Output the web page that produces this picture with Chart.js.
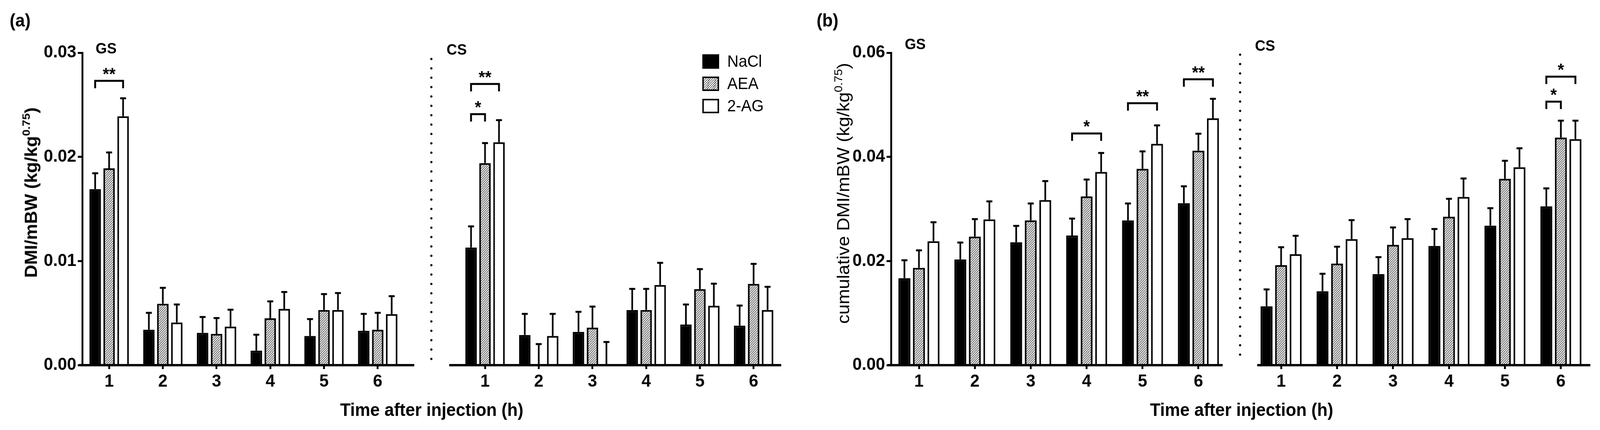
<!DOCTYPE html>
<html>
<head>
<meta charset="utf-8">
<script src="https://cdn.jsdelivr.net/npm/chart.js@4.4.1/dist/chart.umd.min.js"></script>
<style>
  html, body { margin: 0; padding: 0; background: #fff; overflow: hidden; }
  #page { position: relative; width: 4299px; height: 1101px; overflow: hidden; transform-origin: 0 0; font-family: 'Liberation Sans', Arial, sans-serif; color: #000; }
  #page canvas { position: absolute; }
  .txt { position: absolute; white-space: nowrap; line-height: 1; }
  .b { font-weight: bold; }
  .ytitle { position: absolute; white-space: nowrap; line-height: 1; font-size: 46px; transform: translate(-50%, -50%) rotate(-90deg); }
  .ytitle sup { font-size: 65%; vertical-align: 0.62em; line-height: 0; }
  .xtitle { position: absolute; white-space: nowrap; line-height: 1; font-size: 46px; font-weight: bold; transform: translateX(-50%); }
  .dots { position: absolute; width: 8px; background-image: radial-gradient(circle, #000 2.6px, transparent 3.2px); background-size: 8px 24px; background-repeat: repeat-y; }
  .sw { position: absolute; width: 45px; height: 37px; box-sizing: border-box; border: 4px solid #000; }
</style>
</head>
<body>
<div id="page">
  <canvas id="aGS" width="1140" height="1000" style="left:0px;top:80px"></canvas>
  <canvas id="aCS" width="960" height="1000" style="left:1170px;top:80px"></canvas>
  <canvas id="bGS" width="1050" height="1000" style="left:2270px;top:80px"></canvas>
  <canvas id="bCS" width="954" height="1000" style="left:3345px;top:80px"></canvas>

  <div class="txt b" style="font-size:46px;left:26px;top:29px">(a)</div>
  <div class="txt b" style="font-size:46px;left:2194px;top:29px">(b)</div>
  <div class="txt b" style="font-size:39px;left:257px;top:104px">GS</div>
  <div class="txt b" style="font-size:39px;left:1200px;top:107px">CS</div>
  <div class="txt b" style="font-size:39px;left:2431px;top:93px">GS</div>
  <div class="txt b" style="font-size:39px;left:3372px;top:97px">CS</div>

  <div class="dots" style="left:1155px;top:139px;height:790px"></div>
  <div class="dots" style="left:3328px;top:128px;height:790px"></div>

  <div class="ytitle b" style="left:83px;top:493px">DMI/mBW (kg/kg<sup>0.75</sup>)</div>
  <div class="ytitle" style="left:2265px;top:495px;font-size:47px">cumulative DMI/mBW (kg/kg<sup>0.75</sup>)</div>
  <div class="xtitle" style="left:1160px;top:1026px">Time after injection (h)</div>
  <div class="xtitle" style="left:3336px;top:1026px">Time after injection (h)</div>

  <div id="legend"></div>
</div>
<script>
// categories and series
const hours = ['1', '2', '3', '4', '5', '6'];
const groups = ['NaCl', 'AEA', '2-AG'];

// (a) DMI/mBW per hour, GS
const aGsNaCl = [0.0169, 0.0034, 0.0031, 0.0014, 0.0028, 0.0033];
const aGsNaClSem = [0.0016, 0.0017, 0.0016, 0.0016, 0.0017, 0.0017];
const aGsAEA = [0.0189, 0.0059, 0.0030, 0.0045, 0.0053, 0.0034];
const aGsAEASem = [0.0016, 0.0016, 0.0016, 0.0017, 0.0016, 0.0017];
const aGs2AG = [0.0239, 0.0041, 0.0037, 0.0054, 0.0053, 0.0049];
const aGs2AGSem = [0.0018, 0.0018, 0.0017, 0.0017, 0.0017, 0.0018];

// (a) DMI/mBW per hour, CS
const aCsNaCl = [0.0113, 0.0029, 0.0032, 0.0053, 0.0039, 0.0038];
const aCsNaClSem = [0.0021, 0.0021, 0.0020, 0.0021, 0.0020, 0.0020];
const aCsAEA = [0.0194, 0.0001, 0.0036, 0.0053, 0.0073, 0.0078];
const aCsAEASem = [0.0020, 0.0020, 0.0021, 0.0021, 0.0020, 0.0020];
const aCs2AG = [0.0214, 0.0028, 0.0001, 0.0077, 0.0057, 0.0053];
const aCs2AGSem = [0.0022, 0.0022, 0.0022, 0.0022, 0.0022, 0.0023];

// (b) cumulative DMI/mBW, GS
const bGsNaCl = [0.0167, 0.0203, 0.0236, 0.0249, 0.0278, 0.0311];
const bGsNaClSem = [0.0036, 0.0034, 0.0033, 0.0034, 0.0034, 0.0034];
const bGsAEA = [0.0187, 0.0247, 0.0278, 0.0324, 0.0377, 0.0412];
const bGsAEASem = [0.0035, 0.0035, 0.0034, 0.0034, 0.0035, 0.0034];
const bGs2AG = [0.0238, 0.0280, 0.0317, 0.0371, 0.0425, 0.0474];
const bGs2AGSem = [0.0038, 0.0036, 0.0038, 0.0038, 0.0037, 0.0039];

// (b) cumulative DMI/mBW, CS
const bCsNaCl = [0.0113, 0.0142, 0.0175, 0.0229, 0.0268, 0.0305];
const bCsNaClSem = [0.0034, 0.0035, 0.0034, 0.0034, 0.0035, 0.0036];
const bCsAEA = [0.0192, 0.0195, 0.0231, 0.0285, 0.0358, 0.0437];
const bCsAEASem = [0.0036, 0.0034, 0.0035, 0.0036, 0.0036, 0.0034];
const bCs2AG = [0.0213, 0.0242, 0.0244, 0.0323, 0.0380, 0.0434];
const bCs2AGSem = [0.0037, 0.0038, 0.0038, 0.0037, 0.0038, 0.0037];

// y tick values
const aTicks = [0, 0.01, 0.02, 0.03];
const bTicks = [0, 0.02, 0.04, 0.06];

// significance brackets: [hour index, from group, to group, level, label]
const aGsSig = [[0, 0, 2, 0.0273, '**']];
const aCsSig = [[0, 0, 2, 0.0270, '**'], [0, 0, 1, 0.0241, '*']];
const bGsSig = [[3, 0, 2, 0.0445, '*'], [4, 0, 2, 0.0503, '**'], [5, 0, 2, 0.0549, '**']];
const bCsSig = [[5, 0, 2, 0.0554, '*'], [5, 0, 1, 0.0506, '*']];

// the window is narrower than the figure, so squeeze the whole page to fit
const page = document.getElementById('page');
page.style.transform = 'scale(' + (window.innerWidth / 4299) + ',' + (window.innerHeight / 1101) + ')';

Chart.defaults.font.family = "'Liberation Sans', Arial, sans-serif";
Chart.defaults.color = '#000';

// hatch for AEA
function makeHatch() {
    const c = document.createElement('canvas');
    c.width = 6; c.height = 6;
    const p = c.getContext('2d');
    p.fillStyle = '#fff';
    p.fillRect(0, 0, 6, 6);
    p.strokeStyle = '#444';
    p.lineWidth = 1.6;
    p.beginPath();
    p.moveTo(-1, 7); p.lineTo(7, -1);
    p.moveTo(-4, 4); p.lineTo(4, -4);
    p.moveTo(2, 10); p.lineTo(10, 2);
    p.stroke();
    return p.createPattern(c, 'repeat');
}
const hatch = makeHatch();

const extras = {
    id: 'extras',
    afterDatasetsDraw(chart, args, opts) {
        const ctx = chart.ctx;
        const ys = chart.scales.y;
        const area = chart.chartArea;
        ctx.save();
        ctx.strokeStyle = '#000';
        ctx.fillStyle = '#000';
        ctx.lineCap = 'butt';

        // error bars (upper only)
        chart.data.datasets.forEach((ds, di) => {
            chart.getDatasetMeta(di).data.forEach((bar, i) => {
                const top = ys.getPixelForValue(ds.data[i] + ds.sem[i]);
                ctx.lineWidth = 4.5;
                ctx.beginPath();
                ctx.moveTo(bar.x, bar.y);
                ctx.lineTo(bar.x, top);
                ctx.stroke();
                ctx.lineWidth = 5;
                ctx.beginPath();
                ctx.moveTo(bar.x - 8, top + 2);
                ctx.lineTo(bar.x + 8, top + 2);
                ctx.stroke();
            });
        });

        // x axis line
        const y0 = ys.getPixelForValue(0);
        ctx.lineWidth = 6;
        ctx.beginPath();
        ctx.moveTo(area.left - opts.extLeft, y0);
        ctx.lineTo(area.right + opts.extRight, y0);
        ctx.stroke();

        // brackets
        ctx.font = 'bold 44px ' + Chart.defaults.font.family;
        ctx.textAlign = 'center';
        ctx.textBaseline = 'alphabetic';
        opts.sig.forEach(s => {
            const x1 = chart.getDatasetMeta(s[1]).data[s[0]].x;
            const x2 = chart.getDatasetMeta(s[2]).data[s[0]].x;
            const yb = ys.getPixelForValue(s[3]);
            ctx.lineWidth = 5;
            ctx.lineJoin = 'miter';
            ctx.beginPath();
            ctx.moveTo(x1, yb + 19);
            ctx.lineTo(x1, yb);
            ctx.lineTo(x2, yb);
            ctx.lineTo(x2, yb + 19);
            ctx.stroke();
            ctx.fillText(s[4], (x1 + x2) / 2, yb - 28 + 0.58 * 44);
        });
        ctx.restore();
    }
};

function makePanel(id, cfg) {
    const datasets = cfg.values.map((vals, k) => ({
        label: groups[k],
        data: vals,
        sem: cfg.sems[k],
        backgroundColor: ['#000', hatch, '#fff'][k],
        borderColor: '#000',
        borderWidth: 4.5,
        borderSkipped: 'start',
        categoryPercentage: 0.78,
        barPercentage: 0.82
    }));
    new Chart(document.getElementById(id), {
        type: 'bar',
        data: { labels: hours, datasets: datasets },
        options: {
            responsive: false,
            animation: false,
            layout: { padding: { left: cfg.padLeft, right: cfg.padRight, top: 55, bottom: 0 } },
            plugins: {
                legend: { display: false },
                tooltip: { enabled: false },
                extras: { extLeft: cfg.extLeft, extRight: cfg.extRight, sig: cfg.sig }
            },
            scales: {
                x: {
                    offset: true,
                    afterFit: s => { s.height = 145; },
                    border: { display: false },
                    grid: { offset: false, drawOnChartArea: false, drawTicks: true, tickLength: 10, tickWidth: 5, tickColor: '#000', color: '#000' },
                    ticks: { font: { size: 45, weight: 'bold' }, padding: 6, maxRotation: 0 }
                },
                y: {
                    display: cfg.showY,
                    min: 0,
                    max: cfg.ticks[cfg.ticks.length - 1],
                    afterFit: s => { s.width = cfg.yWidth; },
                    afterBuildTicks: s => { s.ticks = cfg.ticks.map(v => ({ value: v })); },
                    border: { display: true, width: 5, color: '#000' },
                    grid: { drawOnChartArea: false, drawTicks: true, tickLength: 12, tickWidth: 5, tickColor: '#000', color: '#000' },
                    ticks: { font: { size: 45, weight: 'bold' }, padding: 4, callback: v => Number(v).toFixed(2) }
                }
            }
        },
        plugins: [extras]
    });
}

makePanel('aGS', {
    values: [aGsNaCl, aGsAEA, aGs2AG], sems: [aGsNaClSem, aGsAEASem, aGs2AGSem],
    ticks: aTicks, sig: aGsSig, showY: true, yWidth: 221, padLeft: 0, padRight: 53, extLeft: 10, extRight: 26
});
makePanel('aCS', {
    values: [aCsNaCl, aCsAEA, aCs2AG], sems: [aCsNaClSem, aCsAEASem, aCs2AGSem],
    ticks: aTicks, sig: aCsSig, showY: false, yWidth: 0, padLeft: 61, padRight: 33, extLeft: 24, extRight: 2
});
makePanel('bGS', {
    values: [bGsNaCl, bGsAEA, bGs2AG], sems: [bGsNaClSem, bGsAEASem, bGs2AGSem],
    ticks: bTicks, sig: bGsSig, showY: true, yWidth: 124, padLeft: 0, padRight: 25, extLeft: 10, extRight: -10
});
makePanel('bCS', {
    values: [bCsNaCl, bCsAEA, bCs2AG], sems: [bCsNaClSem, bCsAEASem, bCs2AGSem],
    ticks: bTicks, sig: bCsSig, showY: false, yWidth: 0, padLeft: 22, padRight: 30, extLeft: -11, extRight: 4
});

// legend
const legend = document.getElementById('legend');
const swatchFills = ['#000', 'repeating-linear-gradient(135deg, #444 0 1.6px, #fff 1.6px 4.2px)', '#fff'];
groups.forEach((g, i) => {
    const sw = document.createElement('div');
    sw.className = 'sw';
    sw.style.left = '1887px';
    sw.style.top = (139 + i * 57) + 'px';
    sw.style.background = swatchFills[i];
    legend.appendChild(sw);
    const t = document.createElement('div');
    t.className = 'txt';
    t.style.fontSize = '42px';
    t.style.left = '1954px';
    t.style.top = (172 - 36 + i * 57) + 'px';
    t.textContent = g;
    legend.appendChild(t);
});
</script>
</body>
</html>
